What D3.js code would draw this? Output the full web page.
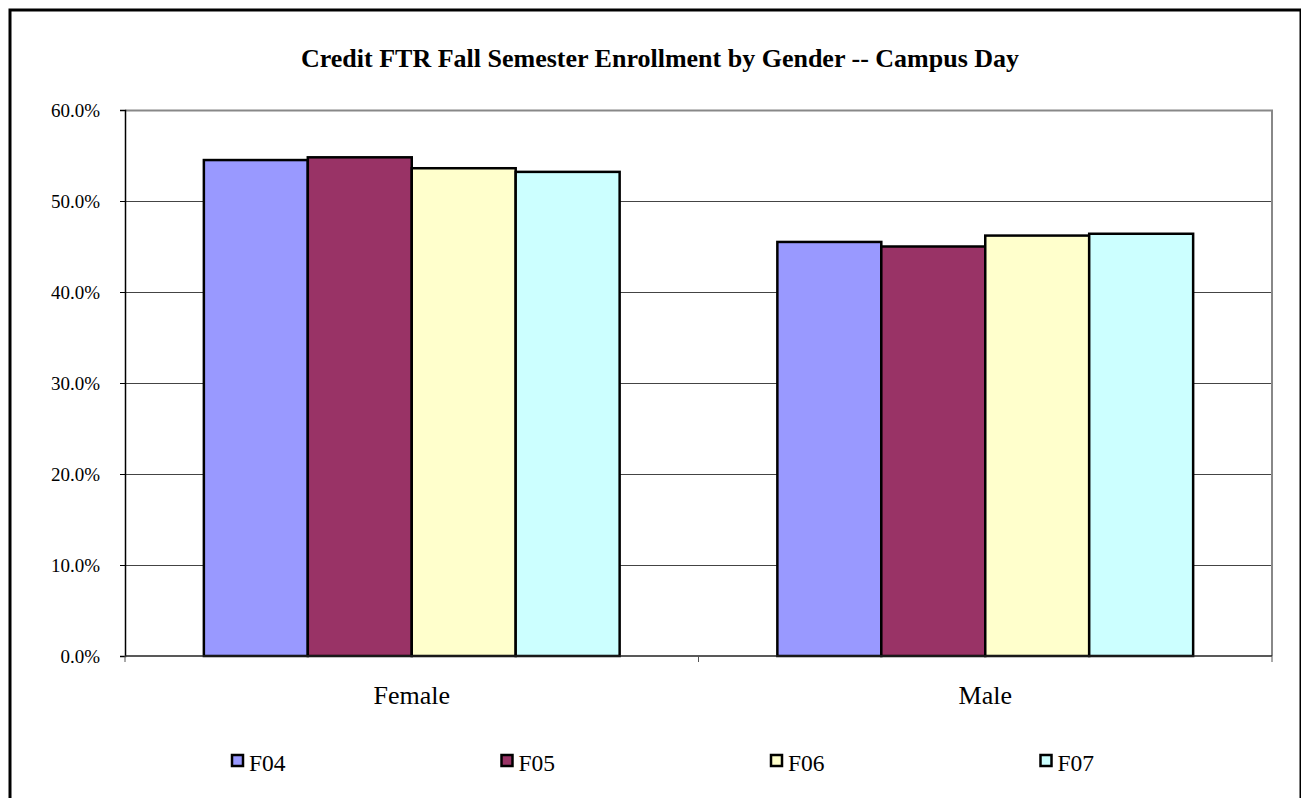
<!DOCTYPE html>
<html lang="en">
  <head>
    <meta charset="UTF-8" />
    <title>Credit FTR Fall Semester Enrollment by Gender</title>
    <script src="https://d3js.org/d3.v7.min.js"></script>
    <style>
      body { margin: 0; background: #fff; }
      svg { display: block; font-family: 'Liberation Serif', 'Times New Roman', serif; }
    </style>
  </head>
  <body>
    <div id="chart"></div>
    <script>
      const categories = ['Female', 'Male'];
      const seriesNames = ['F04', 'F05', 'F06', 'F07'];
      const seriesColors = ['#9999FF', '#993366', '#FFFFCC', '#CCFFFF'];
      const f04 = [54.5, 45.5];
      const f05 = [54.8, 45.0];
      const f06 = [53.6, 46.2];
      const f07 = [53.2, 46.4];
      const yTicks = [0, 10, 20, 30, 40, 50, 60];

      const values = [f04, f05, f06, f07];
      const W = 1301, H = 798;
      const margin = { top: 110, right: 29, bottom: 142, left: 125 };
      const width = W - margin.left - margin.right;
      const height = H - margin.top - margin.bottom;

      const svg = d3.select('#chart').append('svg')
        .attr('width', W).attr('height', H);

      // outer chart border
      svg.append('rect')
        .attr('x', 10).attr('y', 10)
        .attr('width', 1291).attr('height', 800)
        .attr('fill', 'none').attr('stroke', '#000').attr('stroke-width', 3);

      svg.append('text')
        .attr('x', 660).attr('y', 67)
        .attr('text-anchor', 'middle')
        .style('font-size', '26px').style('font-weight', 'bold')
        .text('Credit FTR Fall Semester Enrollment by Gender -- Campus Day');

      const g = svg.append('g')
        .attr('transform', 'translate(' + margin.left + ',' + margin.top + ')');

      const x0 = d3.scaleBand().domain(categories).range([0, width]);
      const gap = x0.bandwidth() * 0.1375;
      const x1 = d3.scaleBand().domain(seriesNames)
        .range([gap, x0.bandwidth() - gap]);
      const y = d3.scaleLinear().domain([0, 60]).range([height, 0]);

      // gridlines
      g.selectAll('.grid').data(yTicks.slice(1, -1)).enter().append('line')
        .attr('x1', 0).attr('x2', width)
        .attr('y1', (d) => Math.round(y(d)) + 0.5).attr('y2', (d) => Math.round(y(d)) + 0.5)
        .attr('stroke', '#444').attr('stroke-width', 1);

      // plot area border top/right
      g.append('path')
        .attr('d', 'M0,0.5H' + width + 'V' + height)
        .attr('fill', 'none').attr('stroke', '#888').attr('stroke-width', 2);

      // bars
      seriesNames.forEach((s, i) => {
        g.selectAll('.bar-' + s).data(categories).enter().append('rect')
          .attr('x', (c) => x0(c) + x1(s))
          .attr('y', (c, j) => y(values[i][j]))
          .attr('width', x1.bandwidth())
          .attr('height', (c, j) => height - y(values[i][j]))
          .attr('fill', seriesColors[i])
          .attr('stroke', '#000').attr('stroke-width', 2.5);
      });

      // y axis
      const yAxis = g.append('g')
        .call(d3.axisLeft(y).tickValues(yTicks).tickSize(5).tickPadding(20)
          .tickFormat((d) => d.toFixed(1) + '%'));
      yAxis.select('.domain').attr('stroke', '#000').attr('stroke-width', 1.5);
      yAxis.selectAll('.tick line').attr('stroke', '#000');
      yAxis.selectAll('text')
        .style('font-size', '19px').style('font-family', 'Liberation Serif, serif')
        .attr('fill', '#000');

      // x axis: ticks at category boundaries
      const xg = g.append('g').attr('transform', 'translate(0,' + height + ')');
      xg.append('line')
        .attr('x1', 0).attr('x2', width)
        .attr('stroke', '#222').attr('stroke-width', 1.5);
      xg.selectAll('.xt').data(categories.concat(['end'])).enter().append('line')
        .attr('x1', (c, i) => i * x0.step()).attr('x2', (c, i) => i * x0.step())
        .attr('y1', 0).attr('y2', 6)
        .attr('stroke', '#555');
      xg.selectAll('.xl').data(categories).enter().append('text')
        .attr('x', (c) => x0(c) + x0.bandwidth() / 2)
        .attr('y', 48)
        .attr('text-anchor', 'middle')
        .style('font-size', '26px')
        .text((c) => c);

      // legend
      const legend = svg.append('g').attr('transform', 'translate(232,755)');
      const item = legend.selectAll('g').data(seriesNames).enter().append('g')
        .attr('transform', (d, i) => 'translate(' + i * 269.5 + ',0)');
      item.append('rect')
        .attr('width', 11).attr('height', 11)
        .attr('fill', (d, i) => seriesColors[i])
        .attr('stroke', '#000').attr('stroke-width', 2.5);
      item.append('text')
        .attr('x', 17).attr('y', 16)
        .style('font-size', '23.5px')
        .text((d) => d);
    </script>
  </body>
</html>
